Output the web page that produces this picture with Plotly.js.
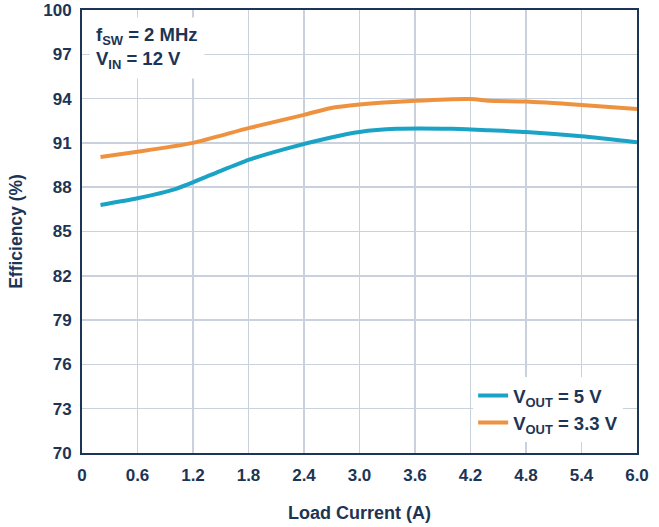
<!DOCTYPE html>
<html>
<head>
<meta charset="utf-8">
<script src="https://cdn.plot.ly/plotly-3.0.1.min.js"></script>
<style>html,body{margin:0;padding:0;background:#fff;}#chart{width:659px;height:527px;}</style>
</head>
<body>
<div id="chart"></div>
<script>
var loadCurrent5V = [0.2, 0.6, 1.0, 1.4, 1.8, 2.2, 2.68, 3.0, 3.4, 4.0, 4.4, 4.8, 5.4, 6.0];
var eff5V = [86.8, 87.25, 87.85, 88.85, 89.85, 90.6, 91.35, 91.74, 91.95, 91.95, 91.85, 91.74, 91.45, 91.05];
var loadCurrent33V = [0.2, 0.6, 1.2, 1.8, 2.4, 2.68, 3.0, 3.6, 4.2, 4.4, 4.8, 5.4, 6.0];
var eff33V = [90.05, 90.4, 91.0, 92.0, 92.9, 93.35, 93.6, 93.85, 93.97, 93.85, 93.8, 93.57, 93.3];
var xTicks = [0, 0.6, 1.2, 1.8, 2.4, 3.0, 3.6, 4.2, 4.8, 5.4, 6.0];
var xTickText = ['0', '0.6', '1.2', '1.8', '2.4', '3.0', '3.6', '4.2', '4.8', '5.4', '6.0'];
var yTicks = [70, 73, 76, 79, 82, 85, 88, 91, 94, 97, 100];
var seriesNames = ['V<sub>OUT</sub> = 5 V', 'V<sub>OUT</sub> = 3.3 V'];

var navy = '#1d3554';
var fam = 'Liberation Sans, Arial, sans-serif';
var fontBase = {family: fam, size: 17, color: navy, weight: 700};

var traces = [
  {x: loadCurrent5V, y: eff5V, name: seriesNames[0], type: 'scatter', mode: 'lines',
   line: {color: '#1ba3c6', width: 4, shape: 'spline', smoothing: 0.6}},
  {x: loadCurrent33V, y: eff33V, name: seriesNames[1], type: 'scatter', mode: 'lines',
   line: {color: '#ee9240', width: 4, shape: 'spline', smoothing: 0.6}}
];

var layout = {
  width: 659, height: 527,
  margin: {l: 82, r: 22, t: 10, b: 74},
  paper_bgcolor: '#fff', plot_bgcolor: '#fff',
  font: fontBase,
  showlegend: true,
  legend: {x: 0.975, xanchor: 'right', y: 0.025, yanchor: 'bottom', bgcolor: '#fff',
           font: {family: fam, size: 18.5, color: navy, weight: 700},
           itemwidth: 30, tracegroupgap: 0},
  xaxis: {range: [0, 6.0], tickvals: xTicks, ticktext: xTickText, showgrid: true,
          gridcolor: '#c9d1dc', gridwidth: 1.5, zeroline: false, showline: true, mirror: true,
          linecolor: navy, linewidth: 2, ticks: '', ticklabelstandoff: 6,
          tickfont: {family: fam, size: 17, color: navy, weight: 700},
          title: {text: 'Load Current (A)', standoff: 22,
                  font: {family: fam, size: 18, color: navy, weight: 700}}},
  yaxis: {range: [70, 100], tickvals: yTicks, showgrid: true,
          gridcolor: '#c9d1dc', gridwidth: 1.5, zeroline: false, showline: true, mirror: true,
          linecolor: navy, linewidth: 2, ticks: '', ticklabelstandoff: 5,
          tickfont: {family: fam, size: 17, color: navy, weight: 700},
          title: {text: 'Efficiency (%)', standoff: 16,
                  font: {family: fam, size: 17.5, color: navy, weight: 700}}},
  annotations: [{
    xref: 'paper', yref: 'paper', x: 0.012, y: 0.985, xanchor: 'left', yanchor: 'top',
    align: 'left', showarrow: false, bgcolor: '#fff', borderpad: 6,
    text: 'f<sub>SW</sub> = 2 MHz<br>V<sub>IN</sub> = 12 V',
    font: {family: fam, size: 18.5, color: navy, weight: 700}
  }]
};

Plotly.newPlot('chart', traces, layout, {displayModeBar: false, staticPlot: true});
</script>
</body>
</html>
